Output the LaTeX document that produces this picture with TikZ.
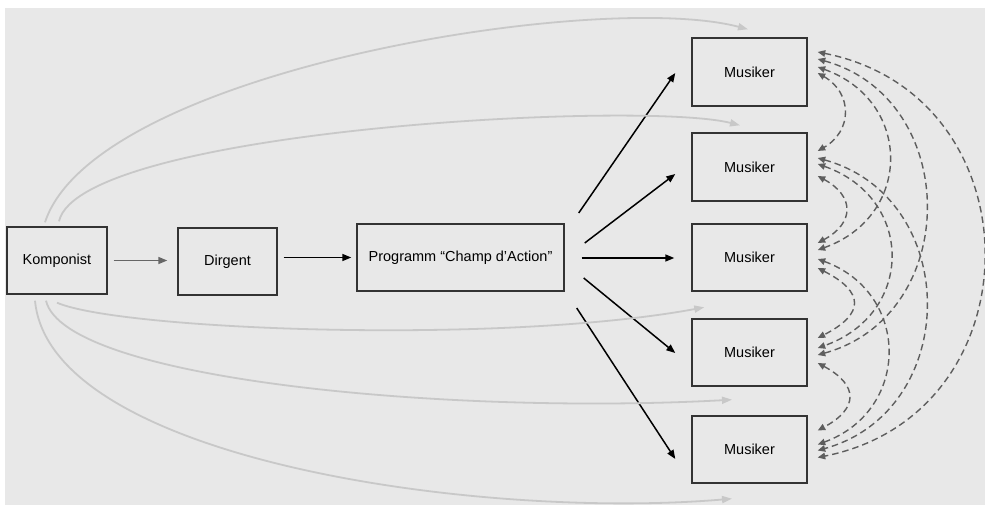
\documentclass[tikz,border=0pt]{standalone}
\usepackage{fontspec}
\setmainfont{Liberation Sans}
\usetikzlibrary{arrows.meta,calc}
\definecolor{bgc}{HTML}{E8E8E8}
\definecolor{lightc}{HTML}{C8C8C8}
\definecolor{boxc}{HTML}{333333}
\definecolor{midc}{HTML}{666666}
\definecolor{dashc}{HTML}{5E5E5E}
\begin{document}
\begin{tikzpicture}[x=1pt,y=-1pt,
  box/.style={draw=boxc, line width=1.4pt, inner sep=0pt, minimum height=67pt, font=\fontsize{14.5}{17}\selectfont},
  musiker/.style={box, minimum width=115pt},
  blackarrow/.style={draw=black, line width=1.5pt, -{Triangle[length=9pt,width=7pt]}},
  grayarrow/.style={draw=midc, line width=1.5pt, -{Triangle[length=9pt,width=7pt]}},
  lightarrow/.style={draw=lightc, line width=1.8pt, -{Triangle[length=10pt,width=7pt]}},
  dasharrow/.style={draw=dashc, line width=1.4pt, dash pattern=on 6.5pt off 4pt,
     {Triangle[length=7.5pt,width=6.5pt]}-{Triangle[length=7.5pt,width=6.5pt]}},
]
\useasboundingbox (0,0) rectangle (985,514);
\fill[bgc] (5,8) rectangle (985,505);

% nodes
\node[box, minimum width=100pt] (K) at (57,260.5) {Komponist};
\node[box, minimum width=99pt] (D) at (227.5,261.5) {Dirgent};
\node[box, minimum width=207pt] (P) at (460.5,257.5) {Programm “Champ d’Action”};
\node[musiker, minimum height=68pt] (M1) at (749.5,72) {Musiker};
\node[musiker, minimum height=68pt] (M2) at (749.5,167) {Musiker};
\node[musiker] (M3) at (749.5,257.5) {Musiker};
\node[musiker] (M4) at (749.5,352.5) {Musiker};
\node[musiker] (M5) at (749.5,449.5) {Musiker};

% main chain
\draw[grayarrow] ([xshift=6pt]K.east) -- ([xshift=-10pt]D.west |- K.east);
\draw[blackarrow] ([xshift=6pt]D.east |- P.west) -- ([xshift=-5pt]P.west);

% Programm -> Musiker
\coordinate (s1) at ($(P.east)+(14,-44.5)$);
\coordinate (s2) at ($(P.east)+(20,-14.5)$);
\coordinate (s3) at ($(P.east)+(17,0.5)$);
\coordinate (s4) at ($(P.east)+(19,20.5)$);
\coordinate (s5) at ($(P.east)+(12,50.5)$);
\coordinate (e1) at ($(M1.west)+(-16,1)$);
\coordinate (e2) at ($(M2.west)+(-16,7)$);
\coordinate (e3) at ($(M3.west)+(-17,0.5)$);
\coordinate (e4) at ($(M4.west)+(-16,0.5)$);
\coordinate (e5) at ($(M5.west)+(-16,9.5)$);
\foreach \i in {1,...,5} { \draw[blackarrow] (s\i) -- (e\i); }

% Komponist -> Musiker (light curves)
\coordinate (k1) at ($(K.north)+(-12,-4)$);
\coordinate (k2) at ($(K.north)+(2,-5)$);
\coordinate (k3) at ($(K.south)+(0,8)$);
\coordinate (k4) at ($(K.south)+(-11,6)$);
\coordinate (k5) at ($(K.south)+(-22,6)$);
\coordinate (l1) at ($(M1.north)+(-1.5,-8)$);
\coordinate (l2) at ($(M2.north)+(-9.5,-7)$);
\coordinate (l3) at ($(M4.north west)+(13,-11)$);
\coordinate (l4) at ($(M4.south)+(-17.5,13)$);
\coordinate (l5) at ($(M5.south)+(-17.5,15)$);
\draw[lightarrow] (k1) .. controls (95,70) and (600,-10) .. (l1);
\draw[lightarrow] (k2) .. controls (80,130) and (640,100) .. (l2);
\draw[lightarrow] (k3) .. controls (120,330) and (500,345) .. (l3);
\draw[lightarrow] (k4) .. controls (65,380) and (450,415) .. (l4);
\draw[lightarrow] (k5) .. controls (50,460) and (480,520) .. (l5);

% Musiker <-> Musiker (dashed)
\coordinate (a1) at ($(M1.east)+(10,-20)$);
\coordinate (a2) at ($(M1.east)+(10,-13)$);
\coordinate (a3) at ($(M1.east)+(10,-5)$);
\coordinate (a4) at ($(M1.east)+(10,1)$);
\coordinate (b1) at ($(M2.east)+(10,-16)$);
\coordinate (b2) at ($(M2.east)+(10,-9)$);
\coordinate (b3) at ($(M2.east)+(10,-3)$);
\coordinate (b4) at ($(M2.east)+(10,9)$);
\coordinate (c1) at ($(M3.east)+(10,-14.5)$);
\coordinate (c2) at ($(M3.east)+(10,-7.5)$);
\coordinate (c3) at ($(M3.east)+(10,1.5)$);
\coordinate (c4) at ($(M3.east)+(10,10.5)$);
\coordinate (d1) at ($(M4.east)+(10,-14.5)$);
\coordinate (d2) at ($(M4.east)+(10,-4.5)$);
\coordinate (d3) at ($(M4.east)+(10,2.5)$);
\coordinate (d4) at ($(M4.east)+(10,10.5)$);
\coordinate (f1) at ($(M5.east)+(10,-19)$);
\coordinate (f2) at ($(M5.east)+(10,-5)$);
\coordinate (f3) at ($(M5.east)+(10,1)$);
\coordinate (f4) at ($(M5.east)+(10,8)$);

% neighbours
\draw[dasharrow] (a4) .. controls +(35,20) and +(35,-20) .. (b1);
\draw[dasharrow] (b4) .. controls +(37,20) and +(37,-20) .. (c1);
\draw[dasharrow] (c4) .. controls +(47,24) and +(47,-24) .. (d1);
\draw[dasharrow] (d4) .. controls +(41,22) and +(41,-22) .. (f1);
% two apart
\draw[dasharrow] (a3) .. controls +(95,34) and +(95,-34) .. (c2);
\draw[dasharrow] (b3) .. controls +(97,34) and +(97,-34) .. (d2);
\draw[dasharrow] (c3) .. controls +(93,34) and +(93,-34) .. (f2);
% three apart
\draw[dasharrow] (a2) .. controls +(144,40) and +(144,-40) .. (d3);
\draw[dasharrow] (b2) .. controls +(144,40) and +(144,-40) .. (f3);
% four apart
\draw[dasharrow] (a1) .. controls +(221,44) and +(221,-44) .. (f4);
\end{tikzpicture}
\end{document}
